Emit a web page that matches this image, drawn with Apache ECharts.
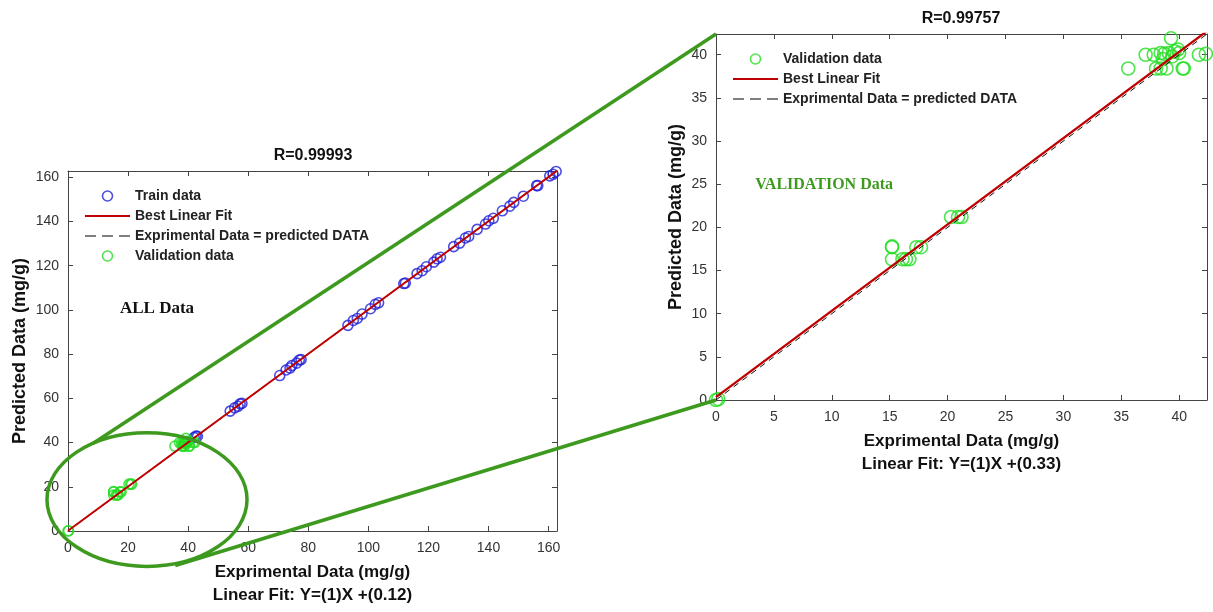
<!DOCTYPE html>
<html>
<head>
<meta charset="utf-8">
<script src="https://cdn.jsdelivr.net/npm/echarts@6/dist/echarts.min.js"></script>
<style>
  html, body { margin: 0; padding: 0; background: #fff; }
  #chart { width: 1213px; height: 612px; }
</style>
</head>
<body>
<div id="chart"></div>
<script>
const trainActual = [42.0, 42.6, 43.1, 54.0, 55.5, 56.6, 57.3, 57.9, 70.5, 72.6, 73.9, 74.5, 76.1, 77.0, 77.6,
  93.2, 95.0, 96.3, 97.9, 100.7, 102.3, 103.4, 111.8, 112.3, 116.2, 117.9, 119.3, 121.8, 122.9, 124.0,
  128.4, 130.4, 132.3, 133.4, 136.2, 139.0, 140.1, 141.6, 144.6, 147.1, 148.4, 151.6, 156.0, 156.4,
  160.4, 161.5, 162.5]
const trainPredicted = [42.3, 42.9, 42.8, 54.2, 55.7, 56.4, 57.5, 57.7, 70.3, 72.8, 73.7, 74.8, 75.9, 77.3, 77.5,
  93.0, 95.2, 96.1, 98.1, 100.5, 102.5, 103.2, 111.9, 112.1, 116.4, 117.7, 119.5, 121.6, 123.1, 123.8,
  128.6, 130.2, 132.5, 133.2, 136.4, 138.8, 140.3, 141.4, 144.8, 146.9, 148.6, 151.4, 156.2, 156.2,
  160.6, 161.3, 162.6]

// validation points
const validActual = [0, 0.2, 15.2, 15.2, 15.2, 16.1, 16.4, 16.7, 17.3, 17.7, 20.3, 20.9, 21.2,
  35.6, 37.1, 37.8, 38.0, 38.4, 38.4, 38.6, 38.7, 38.9, 39.1, 39.3, 39.4, 39.6, 39.9, 40.0,
  40.3, 40.4, 41.7, 42.3]
const validPredicted = [0, 0.1, 17.7, 17.8, 16.3, 16.3, 16.3, 16.3, 17.7, 17.7, 21.2, 21.2, 21.2,
  38.4, 40.0, 40.0, 38.4, 40.2, 38.4, 39.5, 40.1, 38.4, 40.2, 41.9, 39.8, 40.4, 40.6, 40.2,
  38.4, 38.4, 40.0, 40.1]

const allLimits = [0, 162.8]
const validLimits = [0, 42.4]
const allFit = { slope: 1, intercept: 0.12, r: '0.99993' }
const validFit = { slope: 1, intercept: 0.33, r: '0.99757' }

const FONT = '"Liberation Sans", Arial, sans-serif'
const SERIF = '"Liberation Serif", "Times New Roman", serif'
const AXIS_COLOR = '#444'
const BLUE = '#2020d8'
const GREEN = '#22dd22'
const RED = '#c00000'
const ANNOT = '#3d9a1e'

const toPairs = (xs, ys) => xs.map((x, i) => [x, ys[i]])
const fitLine = (lim, fit) => [[lim[0], fit.slope * lim[0] + fit.intercept], [lim[1], fit.slope * lim[1] + fit.intercept]]
const idLine = lim => [[lim[0], lim[0]], [lim[1], lim[1]]]

function mainAxis (pos, grid, lim, step, name, gap) {
  const isX = pos === 'bottom'
  return {
    type: 'value',
    gridIndex: grid,
    position: pos,
    min: lim[0],
    max: lim[1],
    interval: step,
    name: name,
    nameLocation: 'middle',
    nameGap: gap,
    nameTextStyle: {
      fontFamily: FONT, fontWeight: 'bold', fontSize: isX ? 17 : 18, color: '#111', lineHeight: 23
    },
    axisLine: { show: true, lineStyle: { color: AXIS_COLOR, width: 1 } },
    axisTick: { show: true, inside: true, length: 5, lineStyle: { color: AXIS_COLOR } },
    axisLabel: {
      margin: isX ? 10 : 9,
      fontFamily: FONT,
      fontSize: 14,
      color: '#333',
      formatter: v => (Math.abs(v % step) < 1e-6 ? String(v) : '')
    },
    splitLine: { show: false }
  }
}

function boxAxis (pos, grid, lim, step) {
  return {
    type: 'value',
    gridIndex: grid,
    position: pos,
    min: lim[0],
    max: lim[1],
    interval: step,
    axisLine: { show: true, onZero: false, lineStyle: { color: AXIS_COLOR, width: 1 } },
    axisTick: { show: true, inside: true, length: 5, lineStyle: { color: AXIS_COLOR } },
    axisLabel: { show: false },
    splitLine: { show: false }
  }
}

function circles (name, data, color, size, xi) {
  return {
    name: name,
    type: 'scatter',
    xAxisIndex: xi,
    yAxisIndex: xi,
    data: data,
    symbol: 'circle',
    symbolSize: size,
    itemStyle: { color: 'rgba(0,0,0,0)', borderColor: color, borderWidth: 1.6 },
    z: 3
  }
}

function line (name, data, color, type, width, xi, z) {
  return {
    name: name,
    type: 'line',
    xAxisIndex: xi,
    yAxisIndex: xi,
    data: data,
    symbol: 'none',
    lineStyle: { color: color, type: type, width: width },
    itemStyle: { color: color },
    z: z
  }
}

const legendText = { fontFamily: FONT, fontWeight: 'bold', fontSize: 14, color: '#222', lineHeight: 14 }
// line entries: keep the stroke, hide the dot that the legend puts on it
const noDot = { color: 'rgba(0,0,0,0)', borderWidth: 0 }
const fitItem = { name: 'Best Linear Fit', itemStyle: noDot, lineStyle: { width: 2 } }
const dashedItem = {
  name: 'Exprimental Data = predicted DATA',
  itemStyle: noDot,
  lineStyle: { color: '#555', type: [11, 6], width: 1.5 }
}

const chart = echarts.init(document.getElementById('chart'))

const option = {
  backgroundColor: '#fff',
  animation: false,
  title: [
    {
      text: 'R=' + allFit.r, left: 313, top: 148, textAlign: 'center', padding: 0,
      textStyle: { fontFamily: FONT, fontWeight: 'bold', fontSize: 16, color: '#111' }
    },
    {
      text: 'R=' + validFit.r, left: 961, top: 11, textAlign: 'center', padding: 0,
      textStyle: { fontFamily: FONT, fontWeight: 'bold', fontSize: 16, color: '#111' }
    }
  ],
  legend: [
    {
      orient: 'vertical', left: 84, top: 189, itemWidth: 45, itemHeight: 10, itemGap: 6, padding: 0,
      itemStyle: { borderWidth: 1.6 },
      textStyle: legendText,
      data: ['Train data', fitItem, dashedItem, 'Validation data'],
      selectedMode: false
    },
    {
      orient: 'vertical', left: 732, top: 52, itemWidth: 45, itemHeight: 10, itemGap: 6, padding: 0,
      itemStyle: { borderWidth: 1.6 },
      textStyle: legendText,
      data: ['Validation data', fitItem, dashedItem],
      selectedMode: false
    }
  ],
  grid: [
    { left: 68, top: 171, width: 489, height: 365 },
    { left: 716, top: 34, width: 491, height: 366 }
  ],
  xAxis: [
    mainAxis('bottom', 0, allLimits, 20, 'Exprimental Data (mg/g)\nLinear Fit: Y=(' + allFit.slope + ')X +(' + allFit.intercept + ')', 30),
    boxAxis('top', 0, allLimits, 20),
    mainAxis('bottom', 1, validLimits, 5, 'Exprimental Data (mg/g)\nLinear Fit: Y=(' + validFit.slope + ')X +(' + validFit.intercept + ')', 30),
    boxAxis('top', 1, validLimits, 5)
  ],
  yAxis: [
    mainAxis('left', 0, allLimits, 20, 'Predicted Data (mg/g)', 35),
    boxAxis('right', 0, allLimits, 20),
    mainAxis('left', 1, validLimits, 5, 'Predicted Data (mg/g)', 23),
    boxAxis('right', 1, validLimits, 5)
  ],
  series: [
    circles('Train data', toPairs(trainActual, trainPredicted), BLUE, 10, 0),
    line('Exprimental Data = predicted DATA', idLine(allLimits), '#111', [6, 5], 1, 0, 4),
    line('Best Linear Fit', fitLine(allLimits, allFit), RED, 'solid', 2, 0, 5),
    circles('Validation data', toPairs(validActual, validPredicted), GREEN, 10, 0),
    circles('Validation data', toPairs(validActual, validPredicted), GREEN, 13, 2),
    line('Exprimental Data = predicted DATA', idLine(validLimits), '#111', [6, 5], 1, 2, 4),
    line('Best Linear Fit', fitLine(validLimits, validFit), RED, 'solid', 2.4, 2, 5)
  ]
}
chart.setOption(option)

// zoom annotation: ellipse round the validation cluster and lines to the right panel
const L = pt => chart.convertToPixel({ xAxisIndex: 0, yAxisIndex: 0 }, pt)
const R = pt => chart.convertToPixel({ xAxisIndex: 2, yAxisIndex: 2 }, pt)
const c = L([26.3, 14.2])
const edge = L([26.3 + 33.3, 14.2 + 30.2])
const topStart = L([8.3, 39.6])
const botStart = L([35.7, -15.6])
const rTop = R([0, validLimits[1]])
const rOrigin = R([0, 0])
const allLabel = L([17.3, 100.4])
const validLabel = R([3.4, 24.9])

chart.setOption({
  graphic: [
    {
      type: 'ellipse', z: 100, silent: true,
      shape: { cx: c[0], cy: c[1], rx: Math.abs(edge[0] - c[0]), ry: Math.abs(edge[1] - c[1]) },
      style: { fill: 'none', stroke: ANNOT, lineWidth: 3.5 }
    },
    {
      type: 'line', z: 100, silent: true,
      shape: { x1: topStart[0], y1: topStart[1], x2: rTop[0], y2: rTop[1] },
      style: { stroke: ANNOT, lineWidth: 3.5 }
    },
    {
      type: 'line', z: 100, silent: true,
      shape: { x1: botStart[0], y1: botStart[1], x2: rOrigin[0], y2: rOrigin[1] },
      style: { stroke: ANNOT, lineWidth: 3.5 }
    },
    {
      type: 'text', z: 100, silent: true, x: allLabel[0], y: allLabel[1],
      style: { text: 'ALL Data', fontFamily: SERIF, fontWeight: 'bold', fontSize: 17, fill: '#111', verticalAlign: 'middle' }
    },
    {
      type: 'text', z: 100, silent: true, x: validLabel[0], y: validLabel[1],
      style: { text: 'VALIDATION Data', fontFamily: SERIF, fontWeight: 'bold', fontSize: 16, fill: ANNOT, verticalAlign: 'middle' }
    }
  ]
})
</script>
</body>
</html>
